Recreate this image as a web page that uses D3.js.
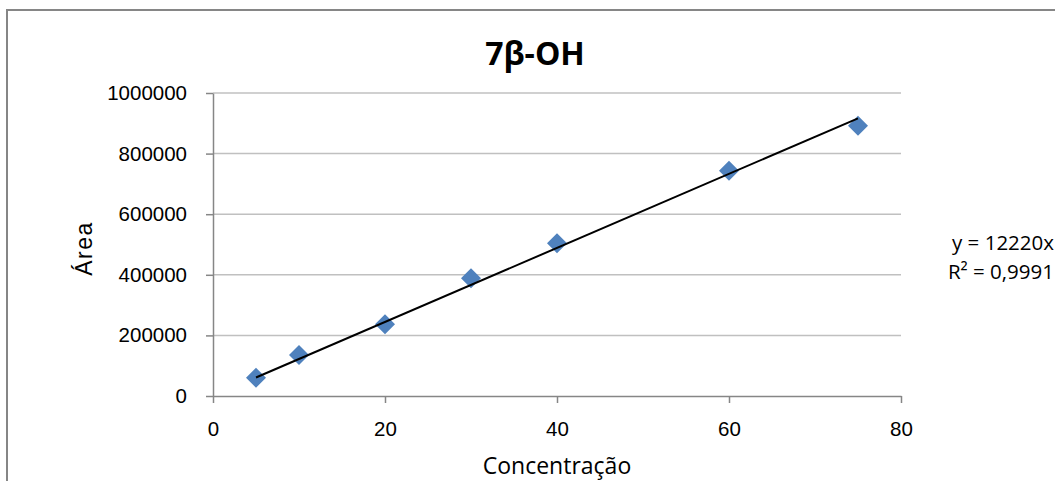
<!DOCTYPE html>
<html>
<head>
<meta charset="utf-8">
<script src="https://cdn.jsdelivr.net/npm/d3@7"></script>
<style>
  body { margin: 0; background: #fff; }
  svg { display: block; font-family: 'Open Sans', sans-serif; }
</style>
</head>
<body>
<svg id="chart" width="1055" height="481"></svg>
<script>
'use strict';

// data
const concentracao = [5, 10, 20, 30, 40, 60, 75];
const area = [60400, 135300, 236600, 388400, 504000, 743600, 892200];
const xTicks = [0, 20, 40, 60, 80];
const yTicks = [0, 200000, 400000, 600000, 800000, 1000000];
const slope = 12220;
const eqLines = ['y = 12220x', 'R² = 0,9991'];

const svg = d3.select('#chart');
const margin = { top: 93, right: 154, bottom: 85, left: 213 };
const width = 1055 - margin.left - margin.right;
const height = 481 - margin.top - margin.bottom;

// chart border
svg.append('rect')
  .attr('x', 7).attr('y', 10)
  .attr('width', 1070).attr('height', 490)
  .attr('fill', '#fff')
  .attr('stroke', '#868686')
  .attr('stroke-width', 2);

const xScale = d3.scaleLinear().domain([0, 80]).range([0, width]);
const yScale = d3.scaleLinear().domain([0, 1000000]).range([height, 0]);

const g = svg.append('g')
  .attr('transform', 'translate(' + margin.left + ',' + margin.top + ')');

// gridlines
g.append('g')
  .selectAll('line')
  .data(yTicks.slice(1))
  .enter()
  .append('line')
  .attr('x1', 0).attr('x2', width)
  .attr('y1', (d) => yScale(d)).attr('y2', (d) => yScale(d))
  .attr('stroke', '#c0c0c0')
  .attr('stroke-width', 1.5);

const xAxis = d3.axisBottom(xScale)
  .tickValues(xTicks)
  .tickSizeInner(7)
  .tickSizeOuter(0)
  .tickPadding(18)
  .tickFormat(d3.format('d'));

const yAxis = d3.axisLeft(yScale)
  .tickValues(yTicks)
  .tickSizeInner(7)
  .tickSizeOuter(0)
  .tickPadding(19)
  .tickFormat(d3.format('d'));

g.append('g')
  .attr('transform', 'translate(0,' + height + ')')
  .call(xAxis)
  .call((a) => {
    a.select('.domain').attr('stroke', '#868686').attr('stroke-width', 1.5);
    a.selectAll('line').attr('stroke', '#868686').attr('stroke-width', 1.5);
    a.selectAll('text').attr('fill', '#000').style('font-size', '20.5px');
  });

g.append('g')
  .call(yAxis)
  .call((a) => {
    a.select('.domain').attr('stroke', '#868686').attr('stroke-width', 1.5);
    a.selectAll('line').attr('stroke', '#868686').attr('stroke-width', 1.5);
    a.selectAll('text').attr('fill', '#000').style('font-size', '20.5px');
  });

// markers
const diamond = d3.symbol().type(d3.symbolSquare).size(200);
g.selectAll('.point')
  .data(concentracao)
  .enter()
  .append('path')
  .attr('class', 'point')
  .attr('d', diamond)
  .attr('fill', '#4f81bd')
  .attr('transform', (d, i) =>
    'translate(' + xScale(d) + ',' + yScale(area[i]) + ') rotate(45)');

// linear trendline through origin
const trend = d3.extent(concentracao).map((x) => ({ x: x, y: slope * x }));
g.append('path')
  .datum(trend)
  .attr('fill', 'none')
  .attr('stroke', '#000')
  .attr('stroke-width', 2)
  .attr('d', d3.line().x((d) => xScale(d.x)).y((d) => yScale(d.y)));

// title
svg.append('text')
  .attr('x', 535).attr('y', 65)
  .attr('text-anchor', 'middle')
  .style('font-size', '32px')
  .style('font-weight', 'bold')
  .text('7β-OH');

// axis titles
svg.append('text')
  .attr('x', margin.left + width / 2).attr('y', 474)
  .attr('text-anchor', 'middle')
  .style('font-size', '23px')
  .text('Concentração');

svg.append('text')
  .attr('transform', 'translate(92,' + (margin.top + height / 2 + 4) + ') rotate(-90)')
  .attr('text-anchor', 'middle')
  .style('font-family', "'Liberation Sans', sans-serif")
  .style('font-size', '23px')
  .style('letter-spacing', '1.5px')
  .text('Área');

// trendline equation
svg.selectAll('.eq')
  .data(eqLines)
  .enter()
  .append('text')
  .attr('class', 'eq')
  .attr('x', 1054)
  .attr('y', (d, i) => 250 + i * 29)
  .attr('text-anchor', 'end')
  .style('font-size', '20.5px')
  .text((d) => d);
</script>
</body>
</html>
